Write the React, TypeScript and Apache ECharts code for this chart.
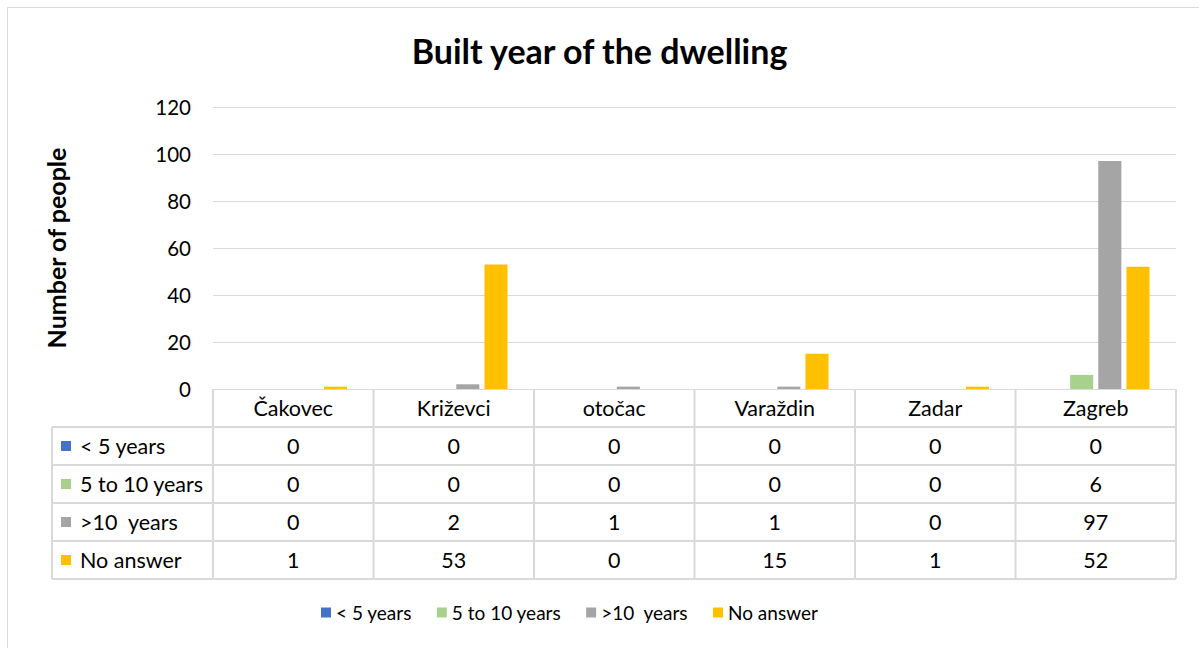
import React, { useEffect, useRef } from "react";
import * as echarts from "echarts";

const categories = ["Čakovec", "Križevci", "otočac", "Varaždin", "Zadar", "Zagreb"];
const seriesNames = ["< 5 years", "5 to 10 years", ">10  years", "No answer"];
const lessThan5 = [0, 0, 0, 0, 0, 0];
const fiveTo10 = [0, 0, 0, 0, 0, 6];
const moreThan10 = [0, 2, 1, 1, 0, 97];
const noAnswer = [1, 53, 0, 15, 1, 52];
const seriesColors = ["#4472C4", "#A9D18E", "#A5A5A5", "#FFC000"];
const yMin = 0;
const yMax = 120;
const yInterval = 20;

const FONT = "Lato, 'Open Sans', sans-serif";
const LINE = "#D9D9D9";

export default function App() {
  const ref = useRef<HTMLDivElement>(null);
  useEffect(() => {
    document.body.style.margin = "0";
    if (!ref.current) return;
    const chart = echarts.init(ref.current, null, { renderer: "svg" });
    const allData = [lessThan5, fiveTo10, moreThan10, noAnswer];
    const option: any = {
      animation: false,
      backgroundColor: "#fff",
      title: {
        text: "Built year of the dwelling",
        left: "center",
        top: 28,
        textStyle: { fontFamily: FONT, fontSize: 34, fontWeight: "bold", color: "#000" },
      },
      legend: {
        bottom: 21,
        left: 316,
        icon: "rect",
        itemWidth: 10,
        itemHeight: 10,
        itemGap: 25,
        textStyle: { fontFamily: FONT, fontSize: 19, color: "#000" },
        data: seriesNames,
      },
      grid: { left: 213, right: 23, top: 107, bottom: 259 },
      xAxis: {
        type: "category",
        data: categories,
        axisLine: { show: true, lineStyle: { color: LINE } },
        axisTick: { show: false },
        axisLabel: { show: false },
      },
      yAxis: {
        type: "value",
        min: yMin,
        max: yMax,
        interval: yInterval,
        name: "Number of people",
        nameLocation: "middle",
        nameGap: 145,
        nameRotate: 90,
        nameTextStyle: { fontFamily: FONT, fontSize: 25, fontWeight: "bold", color: "#000" },
        axisLine: { show: false },
        axisTick: { show: false },
        axisLabel: { fontFamily: FONT, fontSize: 20.5, color: "#000", margin: 22 },
        splitLine: { lineStyle: { color: LINE, width: 1 } },
      },
      series: seriesNames.map((n, i) => ({
        name: n,
        type: "bar",
        data: allData[i],
        itemStyle: { color: seriesColors[i] },
        barGap: "22%",
        barCategoryGap: "33%",
      })),
    };
    chart.setOption(option);

    // Build data table beneath the plot, positioned from the axis scales
    const centers = categories.map((_, i) => chart.convertToPixel({ xAxisIndex: 0 }, i) as number);
    const band = centers.length > 1 ? centers[1] - centers[0] : 160;
    const x0 = centers[0] - band / 2;
    const x1 = centers[centers.length - 1] + band / 2;
    const y0 = chart.convertToPixel({ yAxisIndex: 0 }, yMin) as number;
    const rowH = 38;
    const labelLeft = 52;
    const nRows = seriesNames.length + 1;
    const yBottom = y0 + rowH * nRows;
    const g: any[] = [];
    const textStyle = (t: string, x: number, y: number, align = "center") => ({
      type: "text",
      x,
      y,
      style: {
        text: t,
        fontFamily: FONT,
        fontSize: 21.5,
        fill: "#000",
        align,
        verticalAlign: "middle",
      },
    });
    // outer border of chart
    g.push({
      type: "rect",
      shape: { x: 7.5, y: 7.5, width: 1220, height: 660 },
      style: { fill: "none", stroke: LINE, lineWidth: 1 },
    });
    // horizontal lines
    for (let k = 1; k <= nRows; k++) {
      const y = y0 + rowH * k;
      g.push({ type: "line", shape: { x1: labelLeft, y1: y, x2: x1, y2: y }, style: { stroke: LINE, lineWidth: 2 } });
    }
    // vertical lines
    for (let c = 0; c <= categories.length; c++) {
      const x = x0 + band * c;
      g.push({ type: "line", shape: { x1: x, y1: y0, x2: x, y2: yBottom }, style: { stroke: LINE, lineWidth: 2 } });
    }
    g.push({ type: "line", shape: { x1: labelLeft, y1: y0 + rowH, x2: labelLeft, y2: yBottom }, style: { stroke: LINE, lineWidth: 2 } });
    // header
    categories.forEach((c, i) => g.push(textStyle(c, centers[i], y0 + rowH / 2)));
    // rows
    seriesNames.forEach((n, r) => {
      const yc = y0 + rowH * (r + 1) + rowH / 2;
      g.push({
        type: "rect",
        shape: { x: labelLeft + 9, y: yc - 5, width: 10, height: 10 },
        style: { fill: seriesColors[r] },
      });
      g.push(textStyle(n, labelLeft + 28, yc, "left"));
      allData[r].forEach((v, i) => g.push(textStyle(String(v), centers[i], yc)));
    });
    chart.setOption({ graphic: g });
    return () => chart.dispose();
  }, []);
  return <div ref={ref} style={{ width: 1199, height: 648 }} />;
}
